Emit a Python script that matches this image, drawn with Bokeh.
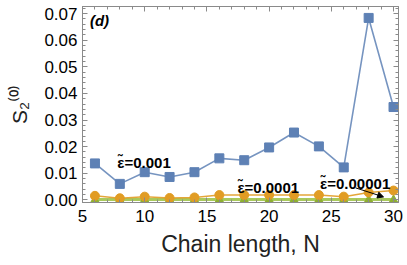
from bokeh.plotting import figure
from bokeh.models import LinearAxis, Range1d, FixedTicker, Arrow, NormalHead, Label
from bokeh.core.properties import value
from bokeh.embed import file_html
from bokeh.resources import INLINE

# ---- data ----
N = [6, 8, 10, 12, 14, 16, 18, 20, 22, 24, 26, 28, 30]
s_eps_1e3 = [0.0137, 0.0060, 0.0104, 0.0086, 0.0104, 0.0156, 0.0149, 0.0197, 0.0253, 0.0201, 0.0122, 0.0684, 0.0349]
s_eps_1e4 = [0.0015, 0.0006, 0.0012, 0.0007, 0.0009, 0.0018, 0.0018, 0.0018, 0.0018, 0.0018, 0.0012, 0.0028, 0.0035]
s_eps_1e5 = [0.0001, 0.0001, 0.0001, 0.0001, 0.0001, 0.0001, 0.0001, 0.0001, 0.0001, 0.0001, 0.0001, 0.0001, 0.0001]
x_ticks = [5, 10, 15, 20, 25, 30]
y_ticks = [0.0, 0.01, 0.02, 0.03, 0.04, 0.05, 0.06, 0.07]
y_tick_labels = ["0.00", "0.01", "0.02", "0.03", "0.04", "0.05", "0.06", "0.07"]

labels_text = ["\u03b5\u0303=0.001", "\u03b5\u0303=0.0001", "\u03b5\u0303=0.00001"]
labels_x = [7.8, 17.45, 24.1]
labels_y = [0.0141, 0.0045, 0.0063]
arrow_from = (26.95, 0.0045)
arrow_to = (29.2, 0.0011)
panel_tag = "(d)"

BLUE = "#5e81b5"
ORANGE = "#e19c24"
GREEN = "#8fb032"
FRAME = "#8a8a8a"
FONT = "Liberation Sans"

p = figure(width=406, height=264, output_backend="svg", toolbar_location=None,
           x_range=Range1d(5, 30.4), y_range=Range1d(-0.001, 0.0727),
           min_border_left=82, min_border_right=8, min_border_top=6, min_border_bottom=62)
p.grid.visible = False
p.outline_line_color = FRAME
p.background_fill_color = "white"
p.border_fill_color = "white"

# lines and markers
p.line(N, s_eps_1e5, line_color="#a9c95c", line_width=3)
p.scatter(N, s_eps_1e5, marker="triangle", size=8, fill_color=GREEN, line_color=GREEN)
p.line(N, s_eps_1e4, line_color=ORANGE, line_width=1.5, line_alpha=0.9)
p.scatter(N, s_eps_1e4, marker="circle", size=9, fill_color=ORANGE, line_color=ORANGE)
p.line(N, s_eps_1e3, line_color=BLUE, line_width=1.6, line_alpha=0.85)
p.scatter(N, s_eps_1e3, marker="square", size=9, fill_color=BLUE, line_color=BLUE)

# annotations
p.text(x=labels_x, y=labels_y, text=labels_text, text_font=value(FONT),
       text_font_size="15px", text_font_style="bold", text_color="black",
       text_baseline="alphabetic", text_align="left")
p.add_layout(Arrow(end=NormalHead(size=6, fill_color="black", line_color="black", line_width=1),
                   x_start=arrow_from[0], y_start=arrow_from[1], x_end=arrow_to[0], y_end=arrow_to[1],
                   line_color="black", line_width=1))
p.add_layout(Label(x=5.6, y=0.0643, text=panel_tag, text_font=FONT, text_font_size="15px",
                   text_font_style="bold italic", text_color="black"))

def style_axis(ax, labels=True):
    ax.axis_line_color = FRAME
    ax.major_tick_line_color = FRAME
    ax.minor_tick_line_color = FRAME
    ax.major_tick_in = 5
    ax.major_tick_out = 0
    ax.minor_tick_in = 3
    ax.minor_tick_out = 0
    ax.major_label_text_font = FONT
    ax.major_label_text_color = "black"
    ax.major_label_text_font_size = "17px"

xt = FixedTicker(ticks=x_ticks, minor_ticks=list(range(5, 31)))
yt = FixedTicker(ticks=y_ticks, minor_ticks=[i * 0.002 for i in range(0, 37)])

p.xaxis.ticker = xt
p.yaxis.ticker = yt
p.yaxis.major_label_overrides = {t: l for t, l in zip(y_ticks, y_tick_labels)}
style_axis(p.xaxis[0])
style_axis(p.yaxis[0])
p.xaxis.major_label_standoff = 7
p.yaxis.major_label_standoff = 5
p.xaxis.axis_label = "Chain length, N"
p.xaxis.axis_label_text_font = FONT
p.xaxis.axis_label_text_font_size = "23px"
p.xaxis.axis_label_text_font_style = "normal"
p.xaxis.axis_label_text_color = "#222222"
p.xaxis.axis_label_standoff = 6
p.yaxis.axis_label = "S\u2082\u207d\u2070\u207e"
p.yaxis.axis_label_text_font = FONT
p.yaxis.axis_label_text_font_size = "21px"
p.yaxis.axis_label_text_font_style = "normal"
p.yaxis.axis_label_text_color = "#222222"
p.yaxis.axis_label_standoff = 10

top = LinearAxis(ticker=xt)
style_axis(top)
top.major_label_overrides = {t: "" for t in x_ticks}
top.major_label_standoff = 0
p.add_layout(top, "above")
right = LinearAxis(ticker=yt)
style_axis(right)
right.major_label_overrides = {t: "" for t in y_ticks}
right.major_label_standoff = 0
p.add_layout(right, "right")

open("out.html", "w").write(file_html(p, INLINE))
